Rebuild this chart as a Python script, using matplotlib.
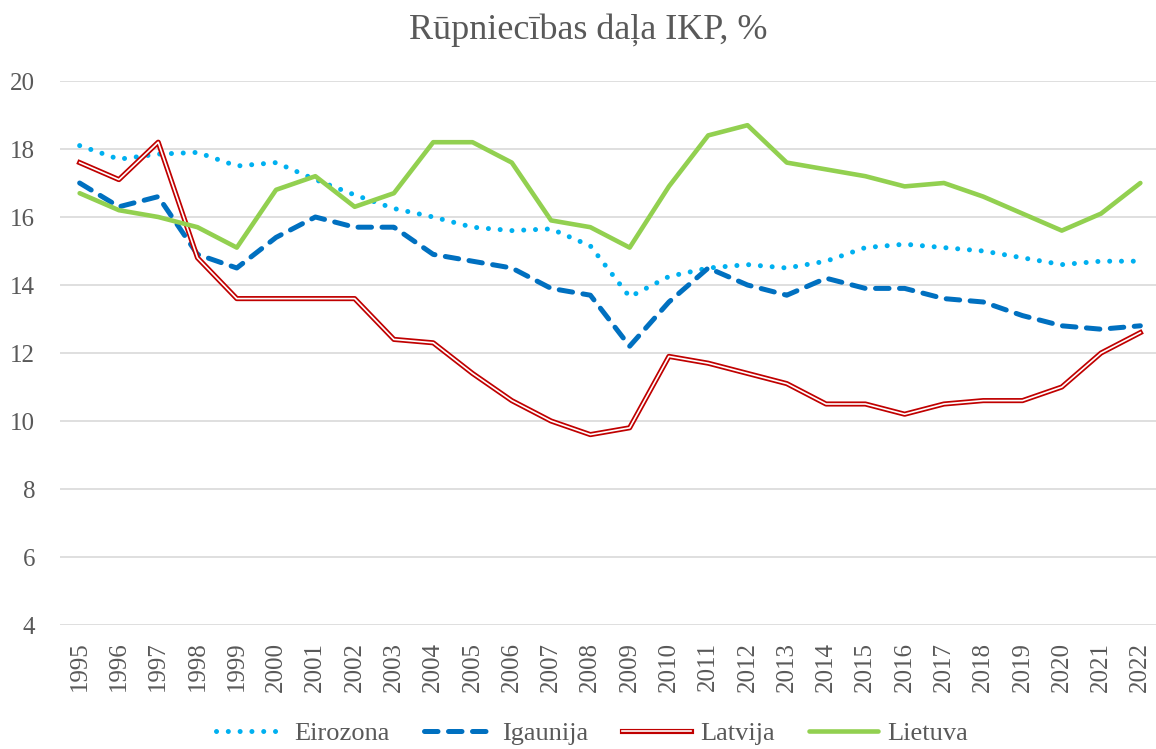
import numpy as np
import matplotlib
matplotlib.use('Agg')
import matplotlib.pyplot as plt
import matplotlib.patheffects as pe

plt.rcParams['font.family'] = ['Liberation Serif', 'DejaVu Serif']

# Data
years = [str(y) for y in range(1995, 2023)]
eirozona = [18.1, 17.7, 17.85, 17.9, 17.5, 17.6, 17.1, 16.65, 16.25, 16.0, 15.7, 15.6, 15.65, 15.15,
            13.65, 14.25, 14.5, 14.6, 14.5, 14.7, 15.1, 15.2, 15.1, 15.0, 14.8, 14.6, 14.7, 14.7]
igaunija = [17.0, 16.3, 16.6, 14.9, 14.5, 15.4, 16.0, 15.7, 15.7, 14.9, 14.7, 14.5, 13.9, 13.7,
            12.2, 13.5, 14.5, 14.0, 13.7, 14.2, 13.9, 13.9, 13.6, 13.5, 13.1, 12.8, 12.7, 12.8]
latvija = [17.6, 17.1, 18.2, 14.8, 13.6, 13.6, 13.6, 13.6, 12.4, 12.3, 11.4, 10.6, 10.0, 9.6,
           9.8, 11.9, 11.7, 11.4, 11.1, 10.5, 10.5, 10.2, 10.5, 10.6, 10.6, 11.0, 12.0, 12.6]
lietuva = [16.7, 16.2, 16.0, 15.7, 15.1, 16.8, 17.2, 16.3, 16.7, 18.2, 18.2, 17.6, 15.9, 15.7,
           15.1, 16.9, 18.4, 18.7, 17.6, 17.4, 17.2, 16.9, 17.0, 16.6, 16.1, 15.6, 16.1, 17.0]
labels = ['Eirozona', 'Igaunija', 'Latvija', 'Lietuva']

grey = '#595959'
x = np.arange(len(years))

fig = plt.figure(figsize=(11.56, 7.49), dpi=100)
ax = fig.add_axes([60 / 1156, 124 / 749, 1100 / 1156, 544 / 749])

ax.plot(x, eirozona, color='#00B0F0', lw=3.6, linestyle=(0, (0.01, 2.35)),
        dash_capstyle='round', label=labels[0])
ax.plot(x, igaunija, color='#0070C0', lw=3.6, linestyle=(0, (2.7, 2.1)),
        dash_capstyle='round', label=labels[1])
ax.plot(x, latvija, color='white', lw=1.2, label=labels[2],
        path_effects=[pe.Stroke(linewidth=3.7, foreground='#C00000'), pe.Normal()])
ax.plot(x, lietuva, color='#92D050', lw=3.3, solid_capstyle='round', label=labels[3])

ax.set_xlim(-0.5, len(years) - 0.5)
ax.set_ylim(4, 20)
ax.set_yticks(range(4, 21, 2))
ax.set_xticks(x)
ax.set_xticklabels(years, rotation=90)
ax.tick_params(axis='both', length=0, labelsize=18, labelcolor=grey)
ax.tick_params(axis='x', pad=12)
ax.tick_params(axis='y', pad=18)
ax.grid(axis='y', color='#D9D9D9', lw=1.2)
ax.set_axisbelow(True)
for s in ax.spines.values():
    s.set_visible(False)

fig.text(588 / 1156, 1 - 30 / 749, 'Rūpniecības daļa IKP, %', ha='center', va='center',
         fontsize=26, color=grey)

leg = fig.legend(loc='center', bbox_to_anchor=(592 / 1156, 1 - 733 / 749), ncol=4,
                 frameon=False, fontsize=19, handlelength=2.6, handletextpad=0.35,
                 columnspacing=1.3)
for t in leg.get_texts():
    t.set_color(grey)

fig.savefig('out.png', dpi=100)
